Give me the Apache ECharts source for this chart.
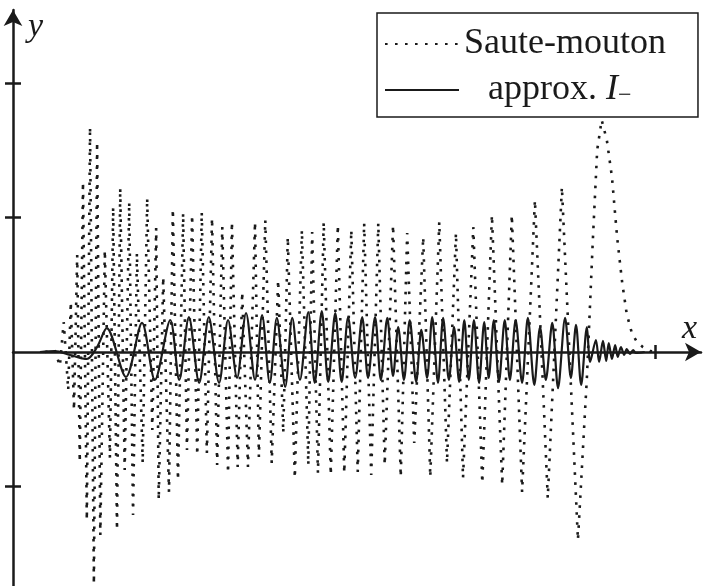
<!DOCTYPE html>
<html>
<head>
<meta charset="utf-8">
<script src="https://cdn.jsdelivr.net/npm/echarts@6/dist/echarts.min.js"></script>
<style>
  html, body { margin: 0; padding: 0; background: #fff; }
  #main { width: 708px; height: 586px; }
</style>
</head>
<body>
<div id="main"></div>
<script>
// extrema of the leap-frog (Saute-mouton) curve
const dotX = [0.050, 0.065, 0.073, 0.079, 0.086, 0.090, 0.095, 0.100, 0.104, 0.109,
  0.115, 0.120, 0.126, 0.131, 0.136, 0.143, 0.151, 0.156, 0.162, 0.167,
  0.174, 0.181, 0.187, 0.193, 0.202, 0.209, 0.217, 0.223, 0.227, 0.234,
  0.243, 0.249, 0.257, 0.265, 0.271, 0.279, 0.287, 0.294, 0.302, 0.310,
  0.318, 0.326, 0.335, 0.341, 0.350, 0.357, 0.366, 0.377, 0.383, 0.393,
  0.403, 0.413, 0.421, 0.428, 0.439, 0.450, 0.460, 0.466, 0.475, 0.484,
  0.495, 0.506, 0.516, 0.527, 0.537, 0.547, 0.558, 0.569, 0.579, 0.592,
  0.604, 0.614, 0.625, 0.639, 0.650, 0.664, 0.676, 0.690, 0.701, 0.717,
  0.731, 0.746, 0.762, 0.777, 0.793, 0.813, 0.833, 0.855, 0.880, 0.894,
  0.903, 0.910, 0.917, 0.925, 0.933, 0.941, 0.949, 0.956, 0.964, 0.972,
  0.981, 0.992, 1.005];
const dotY = [0, 0.015, -0.104, 0.223, -0.283, 0.372, -0.431, 0.721, -0.818, 1.264,
  -1.249, 1.673, -1.725, 1.561, -1.361, 0.758, -0.788, 1.078, -1.323, 1.219,
  -0.877, 1.115, -1.212, 0.736, -0.825, 1.145, -0.580, 0.922, -1.100, 0.558,
  -1.041, 1.063, -0.952, 1.033, -0.729, 1.019, -0.766, 1.041, -0.751, 0.996,
  -0.840, 0.929, -0.900, 0.967, -0.855, 0.446, -0.855, 0.967, -0.781, 0.981,
  -0.825, 0.535, -0.602, 0.855, -0.937, 0.907, -0.840, 0.892, -0.900, 0.967,
  -0.914, 0.944, -0.900, 0.907, -0.892, 0.959, -0.914, 0.959, -0.840, 0.944,
  -0.929, 0.885, -0.677, 0.855, -0.929, 0.967, -0.825, 0.885, -0.937, 0.929,
  -0.974, 1.019, -0.989, 1.019, -1.041, 1.130, -1.086, 1.227, -1.398, -0.186,
  0.810, 1.502, 1.725, 1.576, 1.301, 0.855, 0.513, 0.283, 0.141, 0.074,
  0.037, 0.007, 0];

// approximation I_-
const solidX = [0.042, 0.065, 0.089, 0.115, 0.131, 0.146, 0.176, 0.201, 0.221, 0.245,
  0.259, 0.274, 0.290, 0.305, 0.321, 0.335, 0.349, 0.363, 0.377, 0.388,
  0.400, 0.411, 0.424, 0.435, 0.447, 0.460, 0.470, 0.481, 0.491, 0.502,
  0.512, 0.522, 0.533, 0.544, 0.553, 0.564, 0.573, 0.583, 0.592, 0.600,
  0.609, 0.618, 0.628, 0.636, 0.645, 0.653, 0.662, 0.670, 0.679, 0.687,
  0.695, 0.703, 0.710, 0.718, 0.726, 0.734, 0.741, 0.749, 0.757, 0.766,
  0.774, 0.783, 0.793, 0.802, 0.812, 0.821, 0.830, 0.840, 0.849, 0.860,
  0.869, 0.877, 0.885, 0.894, 0.899, 0.908, 0.913, 0.919, 0.924, 0.928,
  0.933, 0.938, 0.942, 0.947, 0.952, 0.956, 0.961, 0.966, 0.970, 0.984];
const solidY = [0, 0.007, -0.022, -0.052, 0.037, 0.178, -0.186, 0.216, -0.208, 0.238,
  -0.208, 0.260, -0.230, 0.260, -0.230, 0.238, -0.193, 0.290, -0.208, 0.275,
  -0.230, 0.253, -0.260, 0.253, -0.208, 0.297, -0.230, 0.305, -0.223, 0.290,
  -0.223, 0.260, -0.193, 0.260, -0.193, 0.260, -0.208, 0.253, -0.178, 0.186,
  -0.208, 0.238, -0.223, 0.164, -0.193, 0.260, -0.230, 0.253, -0.208, 0.186,
  -0.223, 0.238, -0.208, 0.238, -0.230, 0.223, -0.193, 0.238, -0.223, 0.238,
  -0.208, 0.238, -0.230, 0.253, -0.245, 0.186, -0.208, 0.216, -0.268, 0.253,
  -0.193, 0.201, -0.245, 0.186, -0.074, 0.089, -0.074, 0.082, -0.067, 0.067,
  -0.052, 0.052, -0.037, 0.037, -0.022, 0.022, -0.015, 0.015, -0.007, 0];

const xTicks = [1];
const yTicks = [-1, 1, 2];
const seriesNames = ['Saute-mouton', 'approx. I\u2212'];

var ink = '#1a1a1a';
var serif = '"Liberation Serif", "DejaVu Serif", serif';

function pairs(xs, ys) {
  return xs.map(function (x, i) { return [x, ys[i]]; });
}

function xAxisDef(inside, withLine) {
  return {
    type: 'value', min: 0, max: 1.0717, position: 'bottom',
    axisLine: { show: withLine, onZero: true, symbol: ['none', 'arrow'], symbolSize: [14, 16],
      lineStyle: { color: ink, width: 2.5 } },
    axisTick: { show: true, inside: inside, length: 7, customValues: xTicks,
      lineStyle: { color: ink, width: 2.5 } },
    axisLabel: { show: false },
    splitLine: { show: false }
  };
}

function yAxisDef(inside, withLine) {
  return {
    type: 'value', min: -1.74, max: 2.543, position: 'left',
    axisLine: { show: withLine, onZero: true, symbol: ['none', 'arrow'], symbolSize: [14, 16],
      lineStyle: { color: ink, width: 2.5 } },
    axisTick: { show: true, inside: inside, length: 8, customValues: yTicks,
      lineStyle: { color: ink, width: 2.5 } },
    axisLabel: { show: false },
    splitLine: { show: false }
  };
}

var chart = echarts.init(document.getElementById('main'), null, { renderer: 'canvas' });

chart.setOption({
  animation: false,
  backgroundColor: '#fff',
  color: [ink, ink],
  grid: { left: 13, right: 7, top: 10, bottom: 0, containLabel: false },
  xAxis: [xAxisDef(false, true), xAxisDef(true, false)],
  yAxis: [yAxisDef(false, true), yAxisDef(true, false)],
  legend: {
    orient: 'vertical', left: 377, top: 13,
    padding: [13, 32, 9, 7], itemGap: 10, itemWidth: 74, itemHeight: 14,
    borderColor: ink, borderWidth: 1.5, backgroundColor: '#fff',
    selectedMode: false,
    itemStyle: { opacity: 0 },
    textStyle: {
      fontFamily: serif, fontSize: 36, color: ink, lineHeight: 36,
      rich: {
        it: { fontFamily: serif, fontSize: 36, fontStyle: 'italic', color: ink, lineHeight: 36 },
        sub: { fontFamily: serif, fontSize: 24, color: ink, verticalAlign: 'bottom', lineHeight: 30 }
      }
    },
    data: [
      { name: seriesNames[0] },
      { name: seriesNames[1], textStyle: { padding: [0, 0, 0, 24] } }
    ],
    formatter: function (name) {
      if (name === seriesNames[1]) return 'approx. {it|I}{sub|\u2212}';
      return name;
    }
  },
  graphic: [
    { type: 'text', left: 28, top: 10, z: 10,
      style: { text: 'y', font: 'italic 34px ' + serif, fill: ink } },
    { type: 'text', left: 682, top: 312, z: 10,
      style: { text: 'x', font: 'italic 34px ' + serif, fill: ink } }
  ],
  series: [
    {
      name: seriesNames[0], type: 'line', symbol: 'none', z: 2,
      data: pairs(dotX, dotY),
      itemStyle: { color: ink },
      lineStyle: { color: ink, width: 2.6, type: [2.6, 7.4], cap: 'butt' }
    },
    {
      name: seriesNames[1], type: 'line', symbol: 'none', z: 3,
      data: pairs(solidX, solidY),
      smooth: 0.3,
      itemStyle: { color: ink },
      lineStyle: { color: ink, width: 2.2, type: 'solid' }
    }
  ]
});
</script>
</body>
</html>
